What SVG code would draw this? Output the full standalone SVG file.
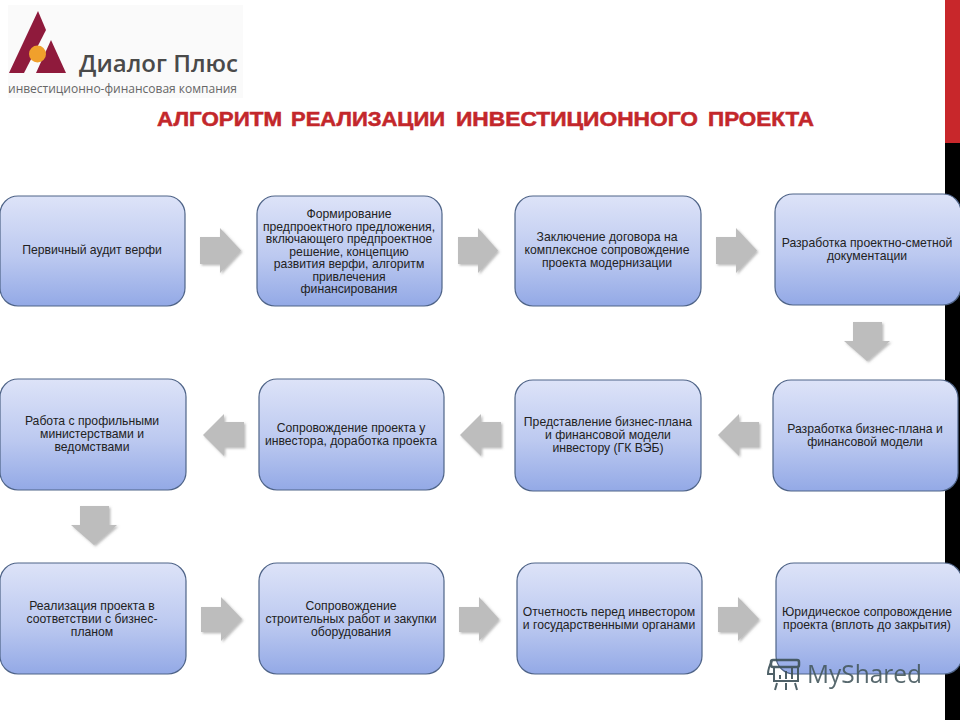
<svg xmlns="http://www.w3.org/2000/svg" width="960" height="720" viewBox="0 0 960 720">
<style>
.box{fill:url(#g);stroke:#4f6488;stroke-width:1.2}
.t{font-family:"Liberation Sans",Arial,sans-serif;font-size:12.2px;fill:#222;text-anchor:middle}
.ar{fill:#bdbdbd;filter:url(#s)}
.ttl{font-family:"Liberation Sans",Arial,sans-serif;font-size:19.500px;font-weight:bold;fill:#c3272b;stroke:#c3272b;stroke-width:.5}
.lg{font-family:"Open Sans","Liberation Sans",sans-serif}
</style>
<defs>
<linearGradient id="g" x1="0" y1="0" x2="0" y2="1">
<stop offset="0" stop-color="#dde3f8"/><stop offset=".55" stop-color="#bcc9f0"/><stop offset="1" stop-color="#93a9e6"/>
</linearGradient>
<filter id="s" x="-20%" y="-20%" width="140%" height="140%"><feDropShadow dx="1.5" dy="1.5" stdDeviation="1.2" flood-color="#777" flood-opacity=".5"/></filter>
</defs>
<rect width="960" height="720" fill="#fff"/>
<rect x="945" y="0" width="15" height="143" fill="#c8272b"/>
<rect x="945" y="143" width="15" height="577" fill="#000"/>
<g id="logo">
<rect x="8" y="5" width="235" height="93" fill="#fafafa"/>
<path d="M38 11 46 30 24 73H9Z" fill="#8f1a3c"/>
<path d="M36 73 51 40 66 73Z" fill="#8f1a3c"/>
<circle cx="37.500" cy="54" r="8.500" fill="#f0a02c"/>
<text class="lg" x="79" y="72" font-size="22.500" font-weight="600" fill="#4a4a4a" textLength="159" lengthAdjust="spacingAndGlyphs">Диалог Плюс</text>
<text class="lg" x="8" y="93" font-size="12" fill="#666" textLength="229" lengthAdjust="spacingAndGlyphs">инвестиционно-финансовая компания</text>
</g>
<text class="ttl" x="157" y="126" textLength="125" lengthAdjust="spacingAndGlyphs">АЛГОРИТМ</text>
<text class="ttl" x="291" y="126" textLength="154" lengthAdjust="spacingAndGlyphs">РЕАЛИЗАЦИИ</text>
<text class="ttl" x="456" y="126" textLength="242" lengthAdjust="spacingAndGlyphs">ИНВЕСТИЦИОННОГО</text>
<text class="ttl" x="708" y="126" textLength="106" lengthAdjust="spacingAndGlyphs">ПРОЕКТА</text>
<g id="connectors">
<path class="ar" d="M200 237H220V228L241 250.500 220 273V264H200Z"/>
<path class="ar" d="M458 237H478V228L498 250.500 478 273V264H458Z"/>
<path class="ar" d="M716 237H736V228L757 250.500 736 273V264H716Z"/>
<path class="ar" d="M853 322H882V341H890L867 361 844 341H853Z"/>
<path class="ar" d="M759 422V447H739V456L718 435 739 414V422Z"/>
<path class="ar" d="M501 422V447H481V456L460 435 481 414V422Z"/>
<path class="ar" d="M244 422V447H224V456L203 435 224 414V422Z"/>
<path class="ar" d="M80 506H109V525H117L94 545 71 525H80Z"/>
<path class="ar" d="M201 607H221V597L242 619 221 641V632H201Z"/>
<path class="ar" d="M459 607H479V597L499 619 479 641V632H459Z"/>
<path class="ar" d="M718 607H738V597L759 619 738 641V632H718Z"/>
</g>
<g id="n1"><rect class="box" x="0" y="196" width="185" height="110" rx="18"/><text class="t" x="92" y="254">Первичный аудит верфи</text></g>
<g id="n2"><rect class="box" x="257" y="196" width="185" height="110" rx="18"/><text class="t"><tspan x="349" y="218">Формирование</tspan><tspan x="349" dy="12.500">предпроектного предложения,</tspan><tspan x="349" dy="12.500">включающего предпроектное</tspan><tspan x="349" dy="12.500">решение, концепцию</tspan><tspan x="349" dy="12.500">развития верфи, алгоритм</tspan><tspan x="349" dy="12.500">привлечения</tspan><tspan x="349" dy="12.500">финансирования</tspan></text></g>
<g id="n3"><rect class="box" x="515" y="196" width="186" height="110" rx="18"/><text class="t"><tspan x="607" y="241">Заключение договора на</tspan><tspan x="607" dy="12.500">комплексное сопровождение</tspan><tspan x="607" dy="13">проекта модернизации</tspan></text></g>
<g id="n4"><rect class="box" x="775" y="194" width="186" height="111" rx="18"/><text class="t"><tspan x="867" y="247">Разработка проектно-сметной</tspan><tspan x="867" dy="12.500">документации</tspan></text></g>
<g id="n5"><rect class="box" x="773" y="380" width="185" height="111" rx="18"/><text class="t"><tspan x="865" y="433">Разработка бизнес-плана и</tspan><tspan x="865" dy="13">финансовой модели</tspan></text></g>
<g id="n6"><rect class="box" x="515" y="380" width="186" height="111" rx="18"/><text class="t"><tspan x="608" y="426">Представление бизнес-плана</tspan><tspan x="608" dy="13">и финансовой модели</tspan><tspan x="608" dy="13">инвестору (ГК ВЭБ)</tspan></text></g>
<g id="n7"><rect class="box" x="259" y="379" width="185" height="111" rx="18"/><text class="t"><tspan x="351" y="432">Сопровождение проекта у</tspan><tspan x="351" dy="13">инвестора, доработка проекта</tspan></text></g>
<g id="n8"><rect class="box" x="0" y="379" width="186" height="111" rx="18"/><text class="t"><tspan x="92" y="425">Работа с профильными</tspan><tspan x="92" dy="13">министерствами и</tspan><tspan x="92" dy="13">ведомствами</tspan></text></g>
<g id="n9"><rect class="box" x="0" y="563" width="186" height="111" rx="18"/><text class="t"><tspan x="92" y="610">Реализация проекта в</tspan><tspan x="92" dy="13">соответствии с бизнес-</tspan><tspan x="92" dy="13">планом</tspan></text></g>
<g id="n10"><rect class="box" x="259" y="563" width="185" height="111" rx="18"/><text class="t"><tspan x="351" y="610">Сопровождение</tspan><tspan x="351" dy="13">строительных работ и закупки</tspan><tspan x="351" dy="13">оборудования</tspan></text></g>
<g id="n11"><rect class="box" x="517" y="563" width="185" height="111" rx="18"/><text class="t"><tspan x="609" y="616">Отчетность перед инвестором</tspan><tspan x="609" dy="13">и государственными органами</tspan></text></g>
<g id="n12"><rect class="box" x="776" y="563" width="186" height="111" rx="18"/><text class="t"><tspan x="867" y="616">Юридическое сопровождение</tspan><tspan x="867" dy="13">проекта (вплоть до закрытия)</tspan></text></g>
<g id="watermark" opacity=".9">
<rect x="771" y="660" width="28" height="7" rx="2" fill="none" stroke="#3d5158" stroke-width="2.500"/>
<path d="M774 667V681H798V667M772 661Q768 668 768 674H775" fill="none" stroke="#3d5158" stroke-width="2"/>
<path d="M780 679V675M786 679V671M792 679V668M777 683 775 690M786 683V690M795 683 797 690" stroke="#3d5158" stroke-width="2" fill="none"/>
<text x="807" y="683" font-family="Open Sans,Liberation Sans,sans-serif" font-size="26" fill="#46595f" textLength="115" lengthAdjust="spacingAndGlyphs">MyShared</text>
</g>
</svg>
